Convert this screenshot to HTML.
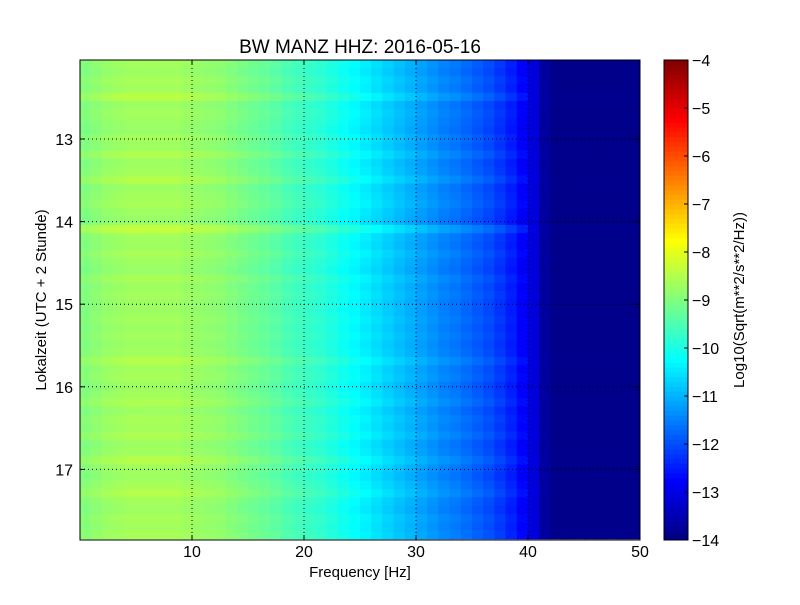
<!DOCTYPE html>
<html><head><meta charset="utf-8"><style>
body{margin:0;background:#fff;font-family:"Liberation Sans",sans-serif}
svg text{font-family:"Liberation Sans",sans-serif;fill:#000}
</style></head><body>
<svg id="chart" width="800" height="600">
<rect width="800" height="600" fill="#fff"/>
<g id="cells"></g>
<g id="cbar"></g>
<g id="grid"></g>
<rect x="80" y="60" width="560" height="480" fill="none" stroke="#000"/>
<rect x="664" y="60" width="24" height="480" fill="none" stroke="#000"/>
<g id="xticks"></g>
<g id="yticks"></g>
<g id="cticks"></g>
<text x="360" y="53" text-anchor="middle" font-size="19">BW MANZ HHZ: 2016-05-16</text>
<text x="360" y="577" text-anchor="middle" font-size="15">Frequency [Hz]</text>
<text transform="translate(46,300) rotate(-90)" text-anchor="middle" font-size="15">Lokalzeit (UTC + 2 Stunde)</text>
<text transform="translate(744,300) rotate(-90)" text-anchor="middle" font-size="15">Log10(Sqrt(m**2/s**2/Hz))</text>
</svg>
<script>
const freqProfile=[-9.0,-8.9,-8.8,-8.75,-8.7,-8.7,-8.7,-8.7,-8.7,-8.75,
-8.8,-8.85,-8.9,-9.0,-9.1,-9.2,-9.3,-9.4,-9.55,-9.65,
-9.75,-9.85,-10.0,-10.15,-10.3,-10.45,-10.6,-10.75,-10.9,-11.05,
-11.2,-11.35,-11.5,-11.6,-11.75,-11.9,-12.05,-12.25,-12.5,-12.8,
-13.1,-13.7,-13.9,-13.9,-13.9,-13.9,-13.9,-13.9,-13.9,-13.9];
const rowOffsets=[0.05,0,0.1,0.05,0.25,0,0.05,0,-0.05,0.05,
0,0.15,0,0.05,0.2,0,0.05,0.1,0,-0.05,
0.35,0.05,0,0.1,0,-0.05,0.1,0,0.05,0,
0,0.05,0,0.05,0,0.05,0.2,0.05,0.1,0,
0.05,0.15,0,0.1,0.05,0.15,0,0.05,0.2,0.05,
0,0.1,0.2,0.05,0,0.1,0.05,0.1];
const xTicks=[10,20,30,40,50];
const yTicks=[13,14,15,16,17];
const cTicks=[-4,-5,-6,-7,-8,-9,-10,-11,-12,-13,-14];
const tStart=12.04,tStep=0.1,fStep=1;
const NS='http://www.w3.org/2000/svg';
const xS=f=>80+f*11.2;
const yS=t=>139+(t-13)*82.6;
const cS=v=>60+(-4-v)*48;
function jet(v){const t=Math.max(0,Math.min(1,(v+14)/10));
const c=x=>Math.round(255*Math.max(0,Math.min(1,1.5-Math.abs(4*t-x))));
return `rgb(${c(3)},${c(2)},${c(1)})`;}
function mk(tag,attrs,parent){const e=document.createElementNS(NS,tag);for(const k in attrs)e.setAttribute(k,attrs[k]);parent.appendChild(e);return e;}
const cells=document.getElementById('cells');
rowOffsets.forEach((o,r)=>{
 const t0=tStart+r*tStep,y0=Math.max(60,yS(t0)),y1=Math.min(540,yS(t0+tStep));
 if(y1<=y0)return;
 freqProfile.forEach((p,i)=>{
  const v=p+o*(p>-13?1:0.15);
  const e=mk('rect',{x:xS(i*fStep),y:y0,width:xS(fStep)-xS(0)+0.5,height:Math.min(540,y1+0.5)-y0,fill:jet(v)},cells);
  
  
 });
});
const cb=document.getElementById('cbar');
for(let k=0;k<100;k++){const v=-14+k*0.1;const y=cS(v+0.1);mk('rect',{x:664,y:y,width:24,height:Math.min(5.3,540-y),fill:jet(v+0.05)},cb);}
const grid=document.getElementById('grid'),xt=document.getElementById('xticks'),yt=document.getElementById('yticks'),ct=document.getElementById('cticks');
xTicks.forEach(f=>{const x=xS(f);
 if(f<50)mk('line',{x1:x,y1:60,x2:x,y2:540,stroke:'#000','stroke-dasharray':'1,3'},grid);
 mk('line',{x1:x,y1:540,x2:x,y2:535,stroke:'#000'},xt);mk('line',{x1:x,y1:60,x2:x,y2:65,stroke:'#000'},xt);
 const e=mk('text',{x:x,y:557,'text-anchor':'middle','font-size':16},xt);e.textContent=f;
 });
yTicks.forEach(t=>{const y=yS(t);
 mk('line',{x1:80,y1:y,x2:640,y2:y,stroke:'#000','stroke-dasharray':'1,3'},grid);
 mk('line',{x1:80,y1:y,x2:85,y2:y,stroke:'#000'},yt);mk('line',{x1:640,y1:y,x2:635,y2:y,stroke:'#000'},yt);
 const e=mk('text',{x:73,y:y+6,'text-anchor':'end','font-size':16},yt);e.textContent=t;
 });
cTicks.forEach(v=>{const y=cS(v);
 mk('line',{x1:688,y1:y,x2:684,y2:y,stroke:'#000'},ct);
 const e=mk('text',{x:692,y:y+6,'font-size':16},ct);e.textContent='\u2212'+Math.abs(v);
 });
</script>
</body></html>
